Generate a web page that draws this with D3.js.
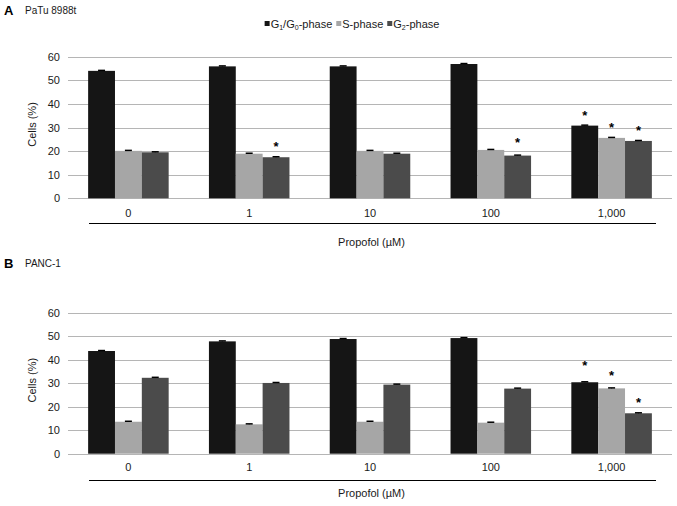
<!DOCTYPE html>
<html>
<head>
<meta charset="utf-8">
<script src="https://cdn.jsdelivr.net/npm/d3@7"></script>
<style>
  html, body { margin: 0; padding: 0; background: #fff; }
  svg { display: block; font-family: "Liberation Sans", Arial, sans-serif; }
</style>
</head>
<body>
<svg id="chart" width="677" height="506"></svg>
<script>
// ---------- data ----------
const categories = ["0", "1", "10", "100", "1,000"];
const seriesKeys = ["G1", "S", "G2"];
const yTicks = [0, 10, 20, 30, 40, 50, 60];
const xAxisTitle = "Propofol (\u00b5M)";
const yAxisTitle = "Cells (%)";

// Panel A: PaTu 8988t
const panelA_G1 = [54.0, 55.9, 55.9, 56.9, 30.8];
const panelA_S  = [20.1, 18.9, 20.1, 20.5, 25.6];
const panelA_G2 = [19.5, 17.4, 18.9, 18.1, 24.3];
const panelA_G1_err = [0.2, 0.2, 0.2, 0.2, 0.2];
const panelA_S_err  = [0.2, 0.2, 0.2, 0.2, 0.2];
const panelA_G2_err = [0.2, 0.2, 0.2, 0.2, 0.2];
const panelA_G1_star = [null, null, null, null, 36.5];
const panelA_S_star  = [null, null, null, null, 31.4];
const panelA_G2_star = [null, 23.1, null, 24.8, 30.0];

// Panel B: PANC-1
const panelB_G1 = [43.7, 47.8, 48.8, 49.2, 30.4];
const panelB_S  = [13.6, 12.5, 13.6, 13.2, 27.8];
const panelB_G2 = [32.3, 30.1, 29.4, 27.7, 17.2];
const panelB_G1_err = [0.2, 0.2, 0.2, 0.2, 0.2];
const panelB_S_err  = [0.2, 0.2, 0.2, 0.2, 0.2];
const panelB_G2_err = [0.2, 0.2, 0.2, 0.2, 0.2];
const panelB_G1_star = [null, null, null, null, 38.7];
const panelB_S_star  = [null, null, null, null, 34.6];
const panelB_G2_star = [null, null, null, null, 23.1];

// ---------- styling ----------
const colors = { G1: "#151515", S: "#a6a6a6", G2: "#4b4b4b" };
const gridColor = "#b5b5b5";
const textColor = "#1a1a1a";

const svg = d3.select("#chart");

// Legend (laid out sequentially, centred)
const legend = svg.append("g").attr("font-size", 11).attr("fill", textColor);
const legendItems = [
  { key: "G1", parts: [["G", 0], ["1", 1], ["/G", 0], ["0", 1], ["-phase", 0]] },
  { key: "S",  parts: [["S-phase", 0]] },
  { key: "G2", parts: [["G", 0], ["2", 1], ["-phase", 0]] }
];
let lx = 0;
legendItems.forEach(it => {
  const ig = legend.append("g").attr("transform", `translate(${lx},0)`);
  ig.append("rect").attr("x", 0).attr("y", 21).attr("width", 5).attr("height", 5)
    .attr("fill", colors[it.key]);
  const t = ig.append("text").attr("x", 6).attr("y", 27.5);
  let sub = false;
  it.parts.forEach(([s, isSub]) => {
    const ts = t.append("tspan").text(s);
    if (isSub && !sub) { ts.attr("dy", 2.5).attr("font-size", 7); sub = true; }
    else if (!isSub && sub) { ts.attr("dy", -2.5); sub = false; }
    else if (isSub) { ts.attr("font-size", 7); }
  });
  lx += 6 + t.node().getComputedTextLength() + 4;
});
legend.attr("transform", `translate(${352 - (lx - 4) / 2},0)`);

function drawPanel(cfg) {
  const g = svg.append("g");
  const x0 = d3.scaleBand().domain(categories).range([68, 672]).padding(0);
  const x1 = d3.scaleBand().domain(seriesKeys).range([0, x0.bandwidth()])
    .paddingInner(0).paddingOuter(0.75);
  const y = d3.scaleLinear().domain([0, 60]).range([cfg.yBottom, cfg.yTop]);

  // panel letter and title
  g.append("text").attr("x", 4).attr("y", cfg.titleY).attr("font-size", 13)
    .attr("font-weight", "bold").attr("fill", "#000").text(cfg.letter);
  g.append("text").attr("x", 25).attr("y", cfg.titleY - 1).attr("font-size", 10)
    .attr("fill", textColor).text(cfg.title);

  // gridlines
  g.append("g").selectAll("line").data(yTicks).join("line")
    .attr("x1", 68).attr("x2", 672)
    .attr("y1", d => Math.round(y(d)) + 0.5).attr("y2", d => Math.round(y(d)) + 0.5)
    .attr("stroke", gridColor).attr("stroke-width", 1);

  // y axis labels
  const yAxis = d3.axisLeft(y).tickValues(yTicks).tickSize(0).tickPadding(8);
  const ya = g.append("g").attr("transform", "translate(68,0)").call(yAxis);
  ya.select(".domain").remove();
  ya.selectAll("text").attr("font-size", 11).attr("fill", textColor)
    .attr("font-family", "Liberation Sans, Arial, sans-serif");

  g.append("text")
    .attr("transform", `translate(36,${(cfg.yTop + cfg.yBottom) / 2 - 3}) rotate(-90)`)
    .attr("text-anchor", "middle").attr("font-size", 11).attr("fill", textColor)
    .text(yAxisTitle);

  // bars
  const rows = [];
  categories.forEach((c, i) => {
    seriesKeys.forEach(k => {
      rows.push({ cat: c, key: k, v: cfg.values[k][i], e: cfg.errs[k][i], s: cfg.stars[k][i] });
    });
  });
  g.append("g").selectAll("rect").data(rows).join("rect")
    .attr("x", d => x0(d.cat) + x1(d.key))
    .attr("y", d => y(d.v))
    .attr("width", x1.bandwidth())
    .attr("height", d => y(0) - y(d.v))
    .attr("fill", d => colors[d.key]);

  // error bars
  const eb = g.append("g").attr("stroke", "#000");
  rows.forEach(d => {
    const cx = x0(d.cat) + x1(d.key) + x1.bandwidth() / 2;
    eb.append("line").attr("x1", cx).attr("x2", cx).attr("y1", y(d.v + d.e)).attr("y2", y(d.v))
      .attr("stroke-width", 1);
    eb.append("line").attr("x1", cx - 3.5).attr("x2", cx + 3.5)
      .attr("y1", y(d.v + d.e)).attr("y2", y(d.v + d.e)).attr("stroke-width", 1.5);
  });

  // significance stars
  g.append("g").selectAll("text").data(rows.filter(d => d.s != null)).join("text")
    .attr("x", d => x0(d.cat) + x1(d.key) + x1.bandwidth() / 2)
    .attr("y", d => y(d.s) + 7.5)
    .attr("text-anchor", "middle").attr("font-size", 13).attr("font-weight", "bold")
    .attr("fill", "#000")
    .text("*");

  // category labels
  const xa = g.append("g").attr("transform", `translate(0,${cfg.catY})`)
    .call(d3.axisBottom(x0).tickSize(0).tickPadding(0));
  xa.select(".domain").remove();
  xa.selectAll("text").attr("font-size", 11).attr("fill", textColor)
    .attr("dy", "0.35em").attr("font-family", "Liberation Sans, Arial, sans-serif");

  // category bracket line
  g.append("line").attr("x1", 89).attr("x2", 656)
    .attr("y1", cfg.lineY + 0.5).attr("y2", cfg.lineY + 0.5)
    .attr("stroke", "#000").attr("stroke-width", 1);

  g.append("text").attr("x", 371.5).attr("y", cfg.xTitleY)
    .attr("text-anchor", "middle").attr("font-size", 11).attr("fill", textColor)
    .text(xAxisTitle);
}

drawPanel({
  letter: "A", title: "PaTu 8988t", titleY: 15,
  yTop: 56.7, yBottom: 198.3, catY: 213, lineY: 223, xTitleY: 245.5,
  values: { G1: panelA_G1, S: panelA_S, G2: panelA_G2 },
  errs: { G1: panelA_G1_err, S: panelA_S_err, G2: panelA_G2_err },
  stars: { G1: panelA_G1_star, S: panelA_S_star, G2: panelA_G2_star }
});

drawPanel({
  letter: "B", title: "PANC-1", titleY: 268,
  yTop: 312.7, yBottom: 453.7, catY: 467, lineY: 480, xTitleY: 497,
  values: { G1: panelB_G1, S: panelB_S, G2: panelB_G2 },
  errs: { G1: panelB_G1_err, S: panelB_S_err, G2: panelB_G2_err },
  stars: { G1: panelB_G1_star, S: panelB_S_star, G2: panelB_G2_star }
});
</script>
</body>
</html>
